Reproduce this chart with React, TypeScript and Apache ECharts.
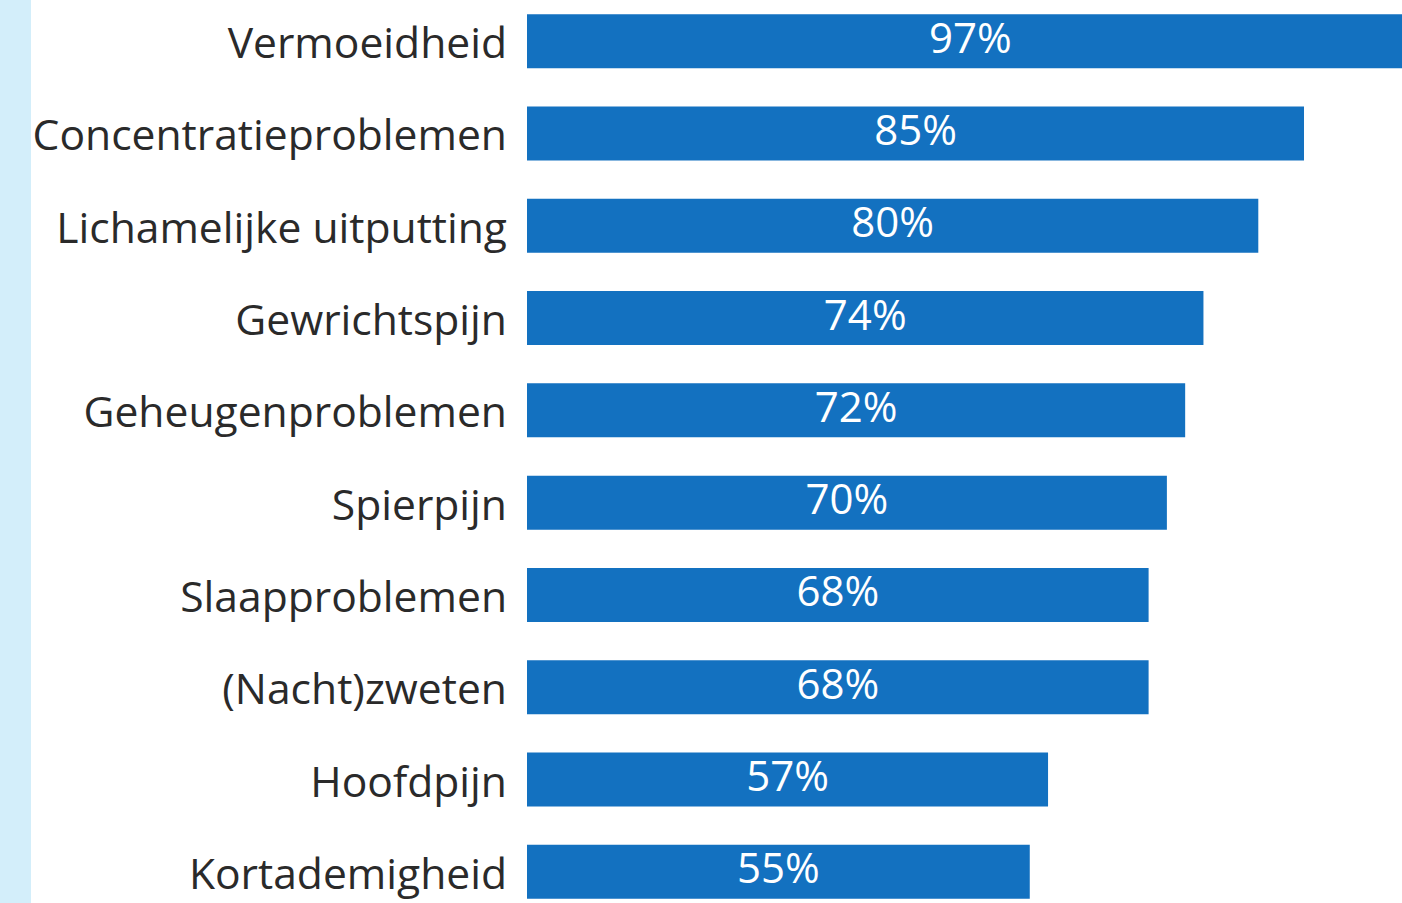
import React, { useEffect, useRef } from "react";
import * as echarts from "echarts";

const categories = [
  "Vermoeidheid",
  "Concentratieproblemen",
  "Lichamelijke uitputting",
  "Gewrichtspijn",
  "Geheugenproblemen",
  "Spierpijn",
  "Slaapproblemen",
  "(Nacht)zweten",
  "Hoofdpijn",
  "Kortademigheid",
];
const values = [97, 85, 80, 74, 72, 70, 68, 68, 57, 55];

export default function App() {
  const ref = useRef<HTMLDivElement>(null);
  useEffect(() => {
    if (!ref.current) return;
    const chart = echarts.init(ref.current, null, { renderer: "svg" });
    chart.setOption({
      animation: false,
      backgroundColor: "#ffffff",
      graphic: [
        {
          type: "rect",
          left: 0,
          top: 0,
          shape: { width: 31, height: 923 },
          style: { fill: "#d3eefa" },
          z: -1,
        },
      ],
      grid: { left: 527, right: 0, top: 0, bottom: 0, containLabel: false },
      xAxis: {
        type: "value",
        min: 0,
        max: 95.72,
        show: false,
      },
      yAxis: {
        type: "category",
        data: categories,
        inverse: true,
        axisLine: { show: false },
        axisTick: { show: false },
        splitLine: { show: false },
        axisLabel: {
          margin: 20,
          fontSize: 42.6,
          color: "#2a2a2a",
          fontFamily: "Open Sans",
        },
      },
      series: [
        {
          type: "bar",
          data: values,
          barWidth: 54,
          clip: false,
          itemStyle: { color: "#1371c0" },
          label: {
            show: true,
            position: "inside",
            formatter: "{c}%",
            color: "#ffffff",
            fontSize: 42,
            fontFamily: "Open Sans",
            offset: [0, -5],
          },
        },
      ],
    });
    return () => chart.dispose();
  }, []);
  return (
    <div
      ref={ref}
      style={{ position: "fixed", left: 0, top: -5, width: 1402, height: 923 }}
    />
  );
}
